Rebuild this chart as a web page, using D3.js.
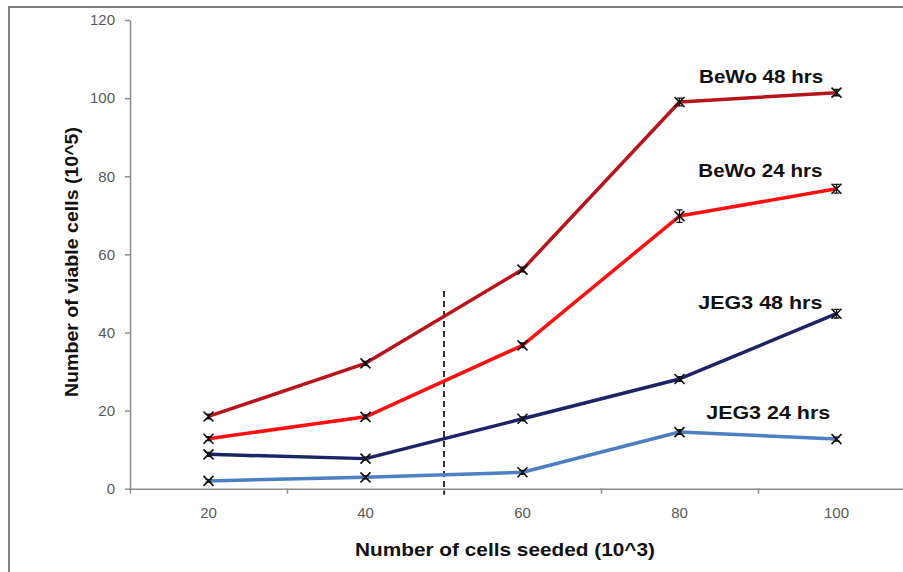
<!DOCTYPE html>
<meta charset="utf-8">
<style>
body { margin: 0; background: #fff; }
svg text { font-family: "Liberation Sans", Arial, sans-serif; }
.tick text { fill: #595959; font-size: 15px; }
.axis path, .axis line { stroke: #8c8c8c; stroke-width: 1.5; }
</style>
<body>
<script src="https://d3js.org/d3.v7.min.js"></script>
<script>

// data
var seeded = [20, 40, 60, 80, 100];
var bewo48 = [18.5, 32.1, 56.1, 99.0, 101.4];
var bewo24 = [12.8, 18.4, 36.7, 69.8, 76.8];
var jeg48  = [8.8, 7.7, 17.9, 28.1, 44.8];
var jeg24  = [2.0, 2.9, 4.2, 14.5, 12.7];
var errBewo48 = [0.6, 0.5, 0.6, 1.0, 0.8];
var errBewo24 = [0.5, 0.5, 0.6, 1.6, 1.1];
var errJeg48  = [0.5, 0.4, 0.5, 0.6, 1.1];
var errJeg24  = [0.3, 0.4, 0.5, 0.6, 0.5];
var yTicks = [0, 20, 40, 60, 80, 100, 120];
var seriesNames = ["BeWo 48 hrs", "BeWo 24 hrs", "JEG3 48 hrs", "JEG3 24 hrs"];

var width = 903, height = 572;

var svg = d3.select("body").append("svg")
    .attr("width", width)
    .attr("height", height);

// frame round the chart area
svg.append("rect")
    .attr("x", 9).attr("y", 7)
    .attr("width", 1000).attr("height", 1000)
    .attr("fill", "#fff")
    .attr("stroke", "#808080")
    .attr("stroke-width", 2);

//scales
var x = d3.scaleLinear().domain([10, 110]).range([130, 915]);
var y = d3.scaleLinear().domain([0, 120]).range([488.7, 20]);

// y axis
svg.append("g")
    .attr("class", "axis")
    .attr("transform", "translate(130,0)")
    .call(d3.axisLeft(y).tickValues(yTicks).tickSize(5).tickSizeOuter(0).tickPadding(10));

// x axis: tick marks between categories, labels on categories
svg.append("g")
    .attr("class", "axis")
    .attr("transform", `translate(0,${y(0)})`)
    .call(d3.axisBottom(x).tickValues([10, 30, 50, 70, 90]).tickSize(5).tickSizeOuter(0).tickFormat(""));

svg.append("g")
    .selectAll("text")
    .data(seeded)
  .enter().append("text")
    .attr("x", d => x(d))
    .attr("y", y(0) + 29)
    .attr("text-anchor", "middle")
    .attr("fill", "#595959")
    .attr("font-size", 15)
    .text(d => d);

// dashed marker line at 50
svg.append("line")
    .attr("x1", x(50)).attr("x2", x(50))
    .attr("y1", y(50.6)).attr("y2", y(0) + 6)
    .attr("stroke", "#333")
    .attr("stroke-width", 2)
    .attr("stroke-dasharray", "6,4");

var series = [
  {name: seriesNames[0], values: bewo48, err: errBewo48, color: "#b8141c", lx: 90.4, ly: 103.9},
  {name: seriesNames[1], values: bewo24, err: errBewo24, color: "#ff1010", lx: 90.3, ly: 79.7},
  {name: seriesNames[2], values: jeg48,  err: errJeg48,  color: "#1c2466", lx: 90.3, ly: 46.0},
  {name: seriesNames[3], values: jeg24,  err: errJeg24,  color: "#4d7fc2", lx: 91.3, ly: 17.9}
];

var line = d3.line()
    .x(d => x(d.x))
    .y(d => y(d.y));

series.slice().reverse().forEach(function(s) {
  var pts = seeded.map((v, i) => ({x: v, y: s.values[i], e: s.err[i]}));

  svg.append("path")
      .datum(pts)
      .attr("d", line)
      .attr("fill", "none")
      .attr("stroke", s.color)
      .attr("stroke-width", 3.5)
      .attr("stroke-linejoin", "round");

  var g = svg.append("g").selectAll("g")
      .data(pts)
    .enter().append("g")
      .attr("transform", d => `translate(${x(d.x)},${y(d.y)})`);

  // error bars
  g.append("path")
      .attr("d", d => {
        var h = y(0) - y(d.e);
        return `M-3,${-h}H3M0,${-h}V${h}M-3,${h}H3`;
      })
      .attr("stroke", "#111")
      .attr("stroke-width", 1.3)
      .attr("fill", "none");

  // x markers
  g.append("path")
      .attr("d", "M-5,-5L5,5M-5,5L5,-5")
      .attr("stroke", "#111")
      .attr("stroke-width", 1.6)
      .attr("fill", "none");

  svg.append("text")
      .attr("x", x(s.lx))
      .attr("y", y(s.ly))
      .attr("text-anchor", "middle")
      .attr("font-weight", "bold")
      .attr("font-size", 19)
      .attr("textLength", 124)
      .attr("lengthAdjust", "spacingAndGlyphs")
      .attr("fill", "#111")
      .text(s.name);
});

// axis titles
svg.append("text")
    .attr("x", 505)
    .attr("y", 556)
    .attr("text-anchor", "middle")
    .attr("font-weight", "bold")
    .attr("font-size", 19)
    .attr("textLength", 300)
    .attr("lengthAdjust", "spacingAndGlyphs")
    .attr("fill", "#111")
    .text("Number of cells seeded (10^3)");

svg.append("text")
    .attr("transform", "translate(78,262) rotate(-90)")
    .attr("text-anchor", "middle")
    .attr("font-weight", "bold")
    .attr("font-size", 18.5)
    .attr("textLength", 270)
    .attr("lengthAdjust", "spacingAndGlyphs")
    .attr("fill", "#111")
    .text("Number of viable cells (10^5)");

</script>
</body>
</html>
